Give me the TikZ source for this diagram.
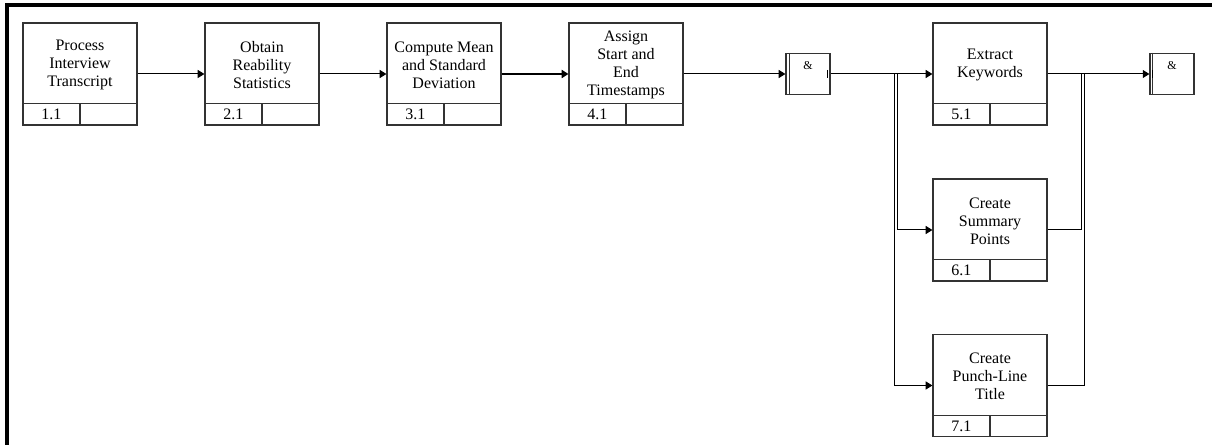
\documentclass[tikz,border=0pt]{standalone}
\usepackage{fontspec}
\setmainfont{Liberation Serif}
\usetikzlibrary{arrows.meta}

\tikzset{
  boxline/.style={draw=black!80,line width=0.9pt},
  procbox/.style={boxline,minimum width=85.5pt,minimum height=76.5pt,inner sep=0pt},
  proctext/.style={align=center,font=\fontsize{12pt}{13.5pt}\selectfont,inner sep=0pt},
  numtext/.style={font=\fontsize{12pt}{13.5pt}\selectfont,inner sep=0pt},
  joinbox/.style={boxline,minimum width=33pt,minimum height=30.75pt,inner sep=0pt},
  jointext/.style={font=\fontsize{9pt}{10pt}\selectfont,inner sep=0pt},
  flow/.style={line width=0.75pt,-{Triangle[length=5pt,width=6pt]}},
  link/.style={line width=0.75pt},
  frame/.style={line width=3pt}
}

% process box: name, x, y, text, number
\newcommand{\procstep}[5]{%
  \node[procbox] (#1) at (#2,#3) {};
  \node[proctext] (#1t) at ([yshift=6.75pt]#1.center) {#4};
  \draw[boxline] ([yshift=16.5pt]#1.south west) -- ([yshift=16.5pt]#1.south east);
  \draw[boxline] ([yshift=16.5pt]#1.south) -- (#1.south);
  \node[numtext] (#1n) at ([xshift=-21.4pt,yshift=8.25pt]#1.south) {#5};
}

\begin{document}
\begin{tikzpicture}[x=0.75pt,y=-0.75pt]
  \useasboundingbox (0,0) rectangle (1212,445);
  \draw[frame] (7,445) -- (7,5.5) -- (1212,5.5);

  \procstep{p1}{80}{74}{Process\\Interview\\Transcript}{1.1}
  \procstep{p2}{262}{74}{Obtain\\Reability\\Statistics}{2.1}
  \procstep{p3}{444}{74}{Compute Mean\\and Standard\\Deviation}{3.1}
  \procstep{p4}{626}{74}{Assign\\Start and\\End\\Timestamps}{4.1}
  \procstep{p5}{990}{74}{Extract\\Keywords}{5.1}
  \procstep{p6}{990}{230}{Create\\Summary\\Points}{6.1}
  \procstep{p7}{990}{385.5}{Create\\Punch-Line\\Title}{7.1}

  % junctions
  \node[joinbox] (j1) at (808,74) {};
  \node[jointext] (j1t) at ([yshift=-9.75pt]j1.north) {\&};
  \draw[boxline] ([xshift=3pt]j1.north west) -- ([xshift=3pt]j1.south west);
  \draw[line width=1pt] ([xshift=-2.5pt,yshift=3pt]j1.east) -- ([xshift=-2.5pt,yshift=-3pt]j1.east);

  \node[joinbox] (j2) at (1172,74) {};
  \node[jointext] (j2t) at ([yshift=-9.75pt]j2.north) {\&};
  \draw[boxline] ([xshift=2.5pt]j2.north west) -- ([xshift=2.5pt]j2.south west);
  \draw[line width=1pt] ([xshift=2.5pt,yshift=3pt]j2.west) -- ([xshift=2.5pt,yshift=-3pt]j2.west);

  % main flow
  \draw[flow] (p1.east) -- (p2.west);
  \draw[flow] (p2.east) -- (p3.west);
  \draw[flow,line width=1.3pt] (p3.east) -- (p4.west);
  \draw[flow] (p4.east) -- (j1.west);
  \draw[flow] (j1.east) -- (p5.west);
  \draw[flow] (p5.east) -- (j2.west);

  % branches
  \coordinate (s6) at (897,74);
  \coordinate (s7) at (894,74);
  \draw[flow] (s6) |- (p6.west);
  \draw[flow] (s7) |- (p7.west);
  \coordinate (m6) at (1081,74);
  \coordinate (m7) at (1084,74);
  \draw[link] (p6.east) -| (m6);
  \draw[link] (p7.east) -| (m7);
\end{tikzpicture}
\end{document}
